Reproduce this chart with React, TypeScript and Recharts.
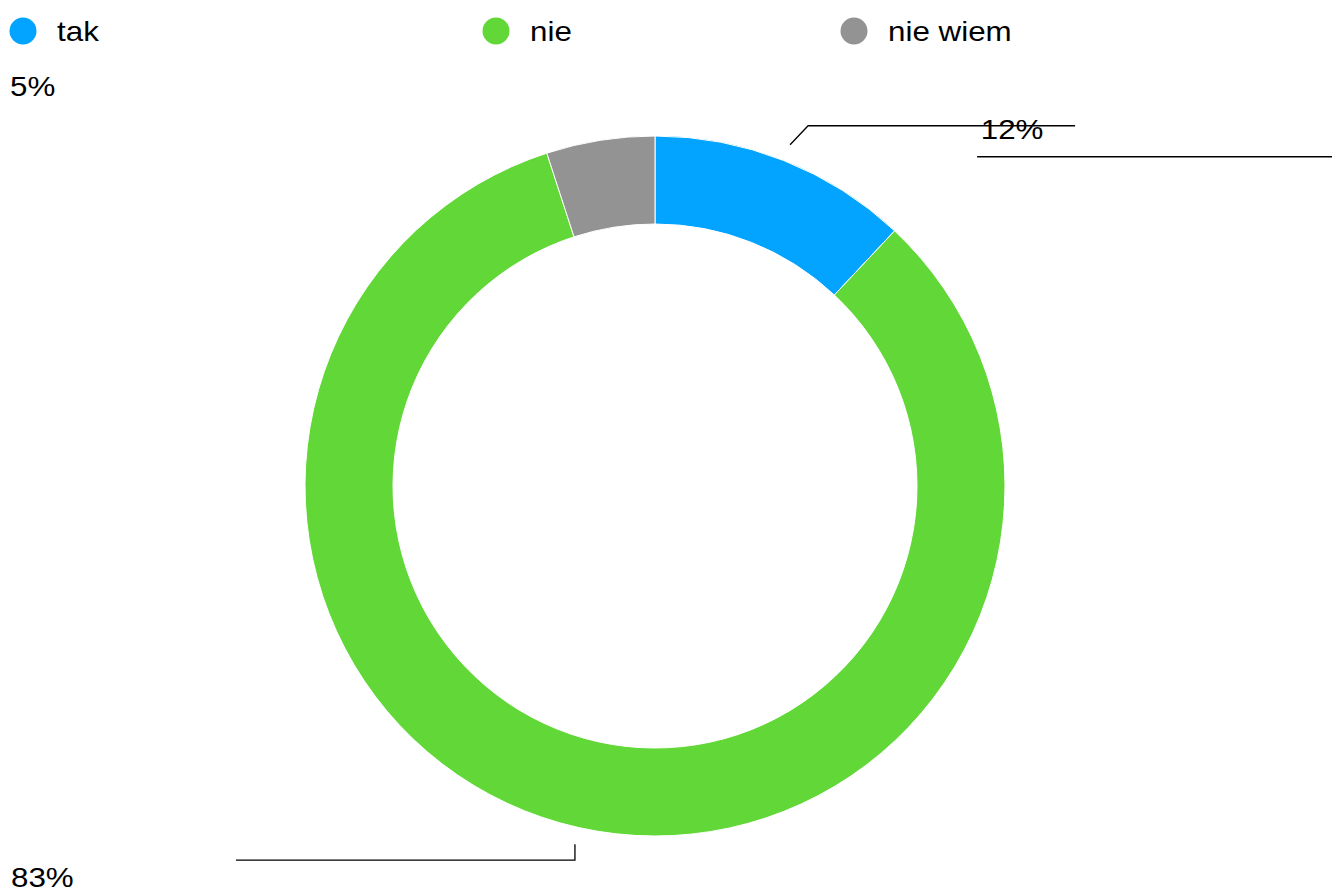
import React from "react";
import { PieChart, Pie, Cell, Legend } from "recharts";

const categories = ["tak", "nie", "nie wiem"];
const values = [12, 83, 5];
const colors = ["#02a4ff", "#62d838", "#939393"];

const data = categories.map((name, i) => ({ name, value: values[i] }));

const W = 1332;
const H = 891;
const LEGEND_H = 60;
const FONT = "'Liberation Sans', Arial, sans-serif";
const SX = 1.12; // reference text is a bit wider than Liberation Sans

const legendX = [23, 496, 854];

function Txt({ x, y, children, anchor = "start", baseline }: any) {
  return (
    <text
      transform={`translate(${x},${y}) scale(${SX},1)`}
      textAnchor={anchor}
      dominantBaseline={baseline}
      fontSize={28}
      fontFamily={FONT}
      fill="#000"
    >
      {children}
    </text>
  );
}

function renderLegend() {
  return (
    <svg width={W} height={LEGEND_H} style={{ display: "block" }}>
      {categories.map((c, i) => (
        <g key={c}>
          <circle cx={legendX[i]} cy={31} r={13.5} fill={colors[i]} />
          <Txt x={legendX[i] + 34} y={31} baseline="central">
            {c}
          </Txt>
        </g>
      ))}
    </svg>
  );
}

const RAD = Math.PI / 180;

function renderLabel(props: any) {
  const { cx, cy, midAngle, outerRadius, index, value } = props;
  const r = outerRadius + 17;
  const sx = cx + r * Math.cos(-midAngle * RAD);
  const sy = cy + r * Math.sin(-midAngle * RAD);
  const txt = `${value}%`;
  if (index === 0) {
    return (
      <g>
        <polyline
          points={`${sx},${sy} ${sx + 18},${sy - 19} ${sx + 285},${sy - 19}`}
          fill="none"
          stroke="#000"
          strokeWidth={1.3}
        />
        <line x1={sx + 187} y1={sy + 12} x2={W} y2={sy + 12} stroke="#000" strokeWidth={1.3} />
        <Txt x={sx + 222} y={sy - 6} anchor="middle">
          {txt}
        </Txt>
      </g>
    );
  }
  if (index === 1) {
    return (
      <g>
        <polyline
          points={`${sx},${sy} ${sx},${sy + 16} ${sx - 339},${sy + 16}`}
          fill="none"
          stroke="#000"
          strokeWidth={1.3}
        />
        <Txt x={11} y={887}>
          {txt}
        </Txt>
      </g>
    );
  }
  return (
    <Txt x={10} y={96}>
      {txt}
    </Txt>
  );
}

export default function App() {
  return (
    <div style={{ position: "absolute", left: 0, top: 0, width: W, height: H, background: "#fff" }}>
      <PieChart width={W} height={H} margin={{ top: 0, right: 0, bottom: 0, left: 0 }}>
        <Legend
          verticalAlign="top"
          align="left"
          content={renderLegend}
          wrapperStyle={{ top: 0, left: 0 }}
        />
        <Pie
          data={data}
          dataKey="value"
          nameKey="name"
          cx={655}
          cy={486 - LEGEND_H}
          innerRadius={262}
          outerRadius={350}
          startAngle={90}
          endAngle={-270}
          stroke="#fff"
          strokeWidth={1}
          label={renderLabel}
          labelLine={false}
          isAnimationActive={false}
        >
          {data.map((d, i) => (
            <Cell key={d.name} fill={colors[i]} />
          ))}
        </Pie>
      </PieChart>
    </div>
  );
}
